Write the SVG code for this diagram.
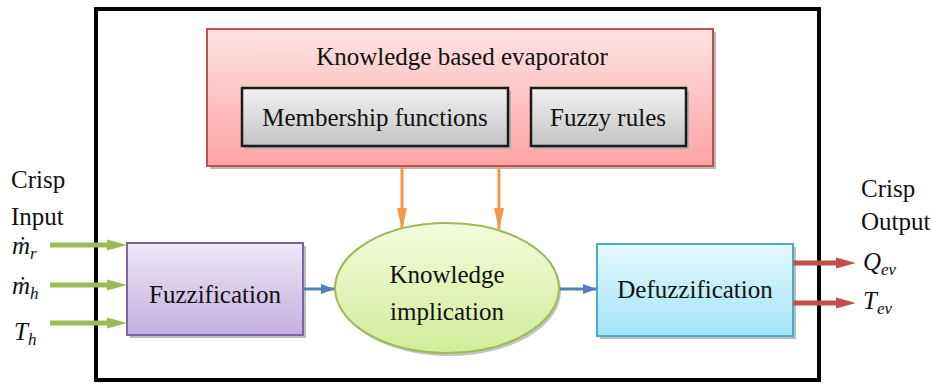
<svg xmlns="http://www.w3.org/2000/svg" width="931" height="385" viewBox="0 0 931 385">
  <defs>
    <linearGradient id="gRed" x1="0" y1="0" x2="0" y2="1">
      <stop offset="0" stop-color="#ffe3e3"/>
      <stop offset="1" stop-color="#ffa3a3"/>
    </linearGradient>
    <linearGradient id="gGray" x1="0" y1="0" x2="0" y2="1">
      <stop offset="0" stop-color="#f2f2f2"/>
      <stop offset="1" stop-color="#c4c4c4"/>
    </linearGradient>
    <linearGradient id="gPurple" x1="0" y1="0" x2="0" y2="1">
      <stop offset="0" stop-color="#eee8f7"/>
      <stop offset="1" stop-color="#c2afe0"/>
    </linearGradient>
    <linearGradient id="gCyan" x1="0" y1="0" x2="0" y2="1">
      <stop offset="0" stop-color="#e4f8ff"/>
      <stop offset="1" stop-color="#a3e4f7"/>
    </linearGradient>
    <linearGradient id="gGreen" x1="0" y1="0" x2="0" y2="1">
      <stop offset="0" stop-color="#f4fbdc"/>
      <stop offset="1" stop-color="#d2ec9a"/>
    </linearGradient>
    <marker id="headBlue" markerUnits="userSpaceOnUse" markerWidth="14" markerHeight="10" refX="13" refY="5" orient="auto">
      <path d="M0,0 L14,5 L0,10 Z" fill="#4f81bd"/>
    </marker>
    <marker id="headOrange" markerUnits="userSpaceOnUse" markerWidth="22" markerHeight="10" refX="21" refY="5" orient="auto">
      <path d="M0,0 L22,5 L0,10 Z" fill="#f79646"/>
    </marker>
  </defs>

  <rect width="931" height="385" fill="#fff"/>

  <!-- outer frame -->
  <rect x="96" y="9" width="723" height="371" fill="none" stroke="#000" stroke-width="4"/>

  <!-- knowledge base -->
  <g id="knowledge-base">
    <rect x="210" y="32" width="506" height="137" fill="#b8b8b8"/>
    <rect x="207" y="29" width="506" height="137" fill="url(#gRed)" stroke="#c0504d" stroke-width="2"/>
    <text font-family="Liberation Serif" font-size="25" fill="#111" x="462" y="65" text-anchor="middle">Knowledge based evaporator</text>
  </g>
  <g id="membership-functions">
    <rect x="245" y="91" width="266" height="58" fill="#b0b0b0"/>
    <rect x="242" y="88" width="266" height="58" fill="url(#gGray)" stroke="#1a1a1a" stroke-width="2.5"/>
    <text font-family="Liberation Serif" font-size="25" fill="#111" x="375" y="126" text-anchor="middle">Membership functions</text>
  </g>
  <g id="fuzzy-rules">
    <rect x="534" y="91" width="155" height="58" fill="#b0b0b0"/>
    <rect x="531" y="88" width="155" height="58" fill="url(#gGray)" stroke="#1a1a1a" stroke-width="2.5"/>
    <text font-family="Liberation Serif" font-size="25" fill="#111" x="608" y="126" text-anchor="middle">Fuzzy rules</text>
  </g>

  <!-- processing stages -->
  <g id="fuzzification">
    <rect x="130" y="246" width="176" height="92" fill="#bdbdbd"/>
    <rect x="127" y="243" width="176" height="92" fill="url(#gPurple)" stroke="#8064a2" stroke-width="2"/>
    <text font-family="Liberation Serif" font-size="25" fill="#111" x="215" y="303" text-anchor="middle">Fuzzification</text>
  </g>
  <g id="knowledge-implication">
    <ellipse cx="449" cy="291" rx="112" ry="65" fill="#c4c4c4"/>
    <ellipse cx="447" cy="288" rx="112" ry="65" fill="url(#gGreen)" stroke="#9bbb59" stroke-width="2"/>
    <text font-family="Liberation Serif" font-size="25" fill="#111" x="447" y="283" text-anchor="middle">Knowledge</text>
    <text font-family="Liberation Serif" font-size="25" fill="#111" x="447" y="320" text-anchor="middle">implication</text>
  </g>
  <g id="defuzzification">
    <rect x="600" y="247" width="196" height="92" fill="#bdbdbd"/>
    <rect x="597" y="244" width="196" height="92" fill="url(#gCyan)" stroke="#4bacc6" stroke-width="2"/>
    <text font-family="Liberation Serif" font-size="25" fill="#111" x="695" y="298" text-anchor="middle">Defuzzification</text>
  </g>

  <!-- connectors -->
  <g id="connectors">
    <line stroke="#f79646" stroke-width="3" x1="402" y1="167" x2="402" y2="229" marker-end="url(#headOrange)"/>
    <line stroke="#f79646" stroke-width="3" x1="499" y1="167" x2="499" y2="229" marker-end="url(#headOrange)"/>
    <line stroke="#4f81bd" stroke-width="3" x1="304" y1="289" x2="334" y2="289" marker-end="url(#headBlue)"/>
    <line stroke="#4f81bd" stroke-width="3" x1="560" y1="289" x2="596" y2="289" marker-end="url(#headBlue)"/>
    <!-- crisp inputs -->
    <path fill="#9bbb59" d="M50,242.5 H107 V239.5 L127,245 L107,250.5 V247.5 H50 Z"/>
    <path fill="#9bbb59" d="M50,282.5 H107 V279.5 L127,285 L107,290.5 V287.5 H50 Z"/>
    <path fill="#9bbb59" d="M50,320.5 H107 V317.5 L127,323 L107,328.5 V325.5 H50 Z"/>
    <!-- crisp outputs -->
    <path fill="#c0504d" d="M793,260.5 H836 V257.5 L856,263 L836,268.5 V265.5 H793 Z"/>
    <path fill="#c0504d" d="M793,300.5 H836 V297.5 L856,303 L836,308.5 V305.5 H793 Z"/>
  </g>

  <!-- input labels -->
  <g id="input-labels" font-family="Liberation Serif" font-size="25" fill="#111">
    <text x="11" y="188">Crisp</text>
    <text x="11" y="225">Input</text>
    <text font-style="italic" x="12" y="254">ṁ<tspan font-size="17" dy="5">r</tspan></text>
    <text font-style="italic" x="12" y="294">ṁ<tspan font-size="17" dy="5">h</tspan></text>
    <text font-style="italic" x="14" y="340">T<tspan font-size="17" dy="5">h</tspan></text>
  </g>

  <!-- output labels -->
  <g id="output-labels" font-family="Liberation Serif" font-size="25" fill="#111">
    <text x="861" y="197">Crisp</text>
    <text x="861" y="230">Output</text>
    <text font-style="italic" x="863" y="270">Q<tspan font-size="17" dy="5">ev</tspan></text>
    <text font-style="italic" x="863" y="309">T<tspan font-size="17" dy="5">ev</tspan></text>
  </g>
</svg>
